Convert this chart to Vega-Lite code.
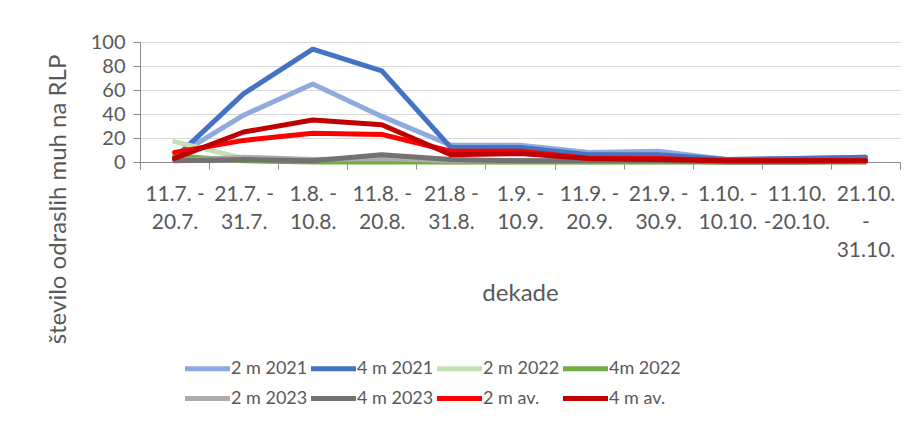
{
  "$schema": "https://vega.github.io/schema/vega-lite/v6.json",
  "width": 760,
  "height": 120,
  "autosize": {"type": "none"},
  "padding": {"left": 140, "top": 42, "right": 15, "bottom": 273},
  "background": "white",
  "config": {"view": {"stroke": null}, "font": "Lato"},
  "data": {"values": [
    {"serija": "2 m 2021", "dekada": "11.7. - 20.7.", "vrednost": 4},
    {"serija": "2 m 2021", "dekada": "21.7. - 31.7.", "vrednost": 39},
    {"serija": "2 m 2021", "dekada": "1.8. - 10.8.", "vrednost": 65},
    {"serija": "2 m 2021", "dekada": "11.8. - 20.8.", "vrednost": 38},
    {"serija": "2 m 2021", "dekada": "21.8 - 31.8.", "vrednost": 14},
    {"serija": "2 m 2021", "dekada": "1.9. - 10.9.", "vrednost": 14},
    {"serija": "2 m 2021", "dekada": "11.9. - 20.9.", "vrednost": 8},
    {"serija": "2 m 2021", "dekada": "21.9. - 30.9.", "vrednost": 9},
    {"serija": "2 m 2021", "dekada": "1.10. - 10.10.", "vrednost": 2},
    {"serija": "2 m 2021", "dekada": "11.10.-20.10.", "vrednost": 3},
    {"serija": "2 m 2021", "dekada": "21.10. - 31.10.", "vrednost": 4},
    {"serija": "4 m 2021", "dekada": "11.7. - 20.7.", "vrednost": 3},
    {"serija": "4 m 2021", "dekada": "21.7. - 31.7.", "vrednost": 57},
    {"serija": "4 m 2021", "dekada": "1.8. - 10.8.", "vrednost": 94},
    {"serija": "4 m 2021", "dekada": "11.8. - 20.8.", "vrednost": 76},
    {"serija": "4 m 2021", "dekada": "21.8 - 31.8.", "vrednost": 12},
    {"serija": "4 m 2021", "dekada": "1.9. - 10.9.", "vrednost": 12},
    {"serija": "4 m 2021", "dekada": "11.9. - 20.9.", "vrednost": 6},
    {"serija": "4 m 2021", "dekada": "21.9. - 30.9.", "vrednost": 6},
    {"serija": "4 m 2021", "dekada": "1.10. - 10.10.", "vrednost": 2},
    {"serija": "4 m 2021", "dekada": "11.10.-20.10.", "vrednost": 3},
    {"serija": "4 m 2021", "dekada": "21.10. - 31.10.", "vrednost": 4},
    {"serija": "2 m 2022", "dekada": "11.7. - 20.7.", "vrednost": 17},
    {"serija": "2 m 2022", "dekada": "21.7. - 31.7.", "vrednost": 3},
    {"serija": "2 m 2022", "dekada": "1.8. - 10.8.", "vrednost": 1},
    {"serija": "2 m 2022", "dekada": "11.8. - 20.8.", "vrednost": 1},
    {"serija": "2 m 2022", "dekada": "21.8 - 31.8.", "vrednost": 0},
    {"serija": "2 m 2022", "dekada": "1.9. - 10.9.", "vrednost": 0},
    {"serija": "2 m 2022", "dekada": "11.9. - 20.9.", "vrednost": 0},
    {"serija": "2 m 2022", "dekada": "21.9. - 30.9.", "vrednost": 0},
    {"serija": "2 m 2022", "dekada": "1.10. - 10.10.", "vrednost": 0},
    {"serija": "2 m 2022", "dekada": "11.10.-20.10.", "vrednost": 0},
    {"serija": "2 m 2022", "dekada": "21.10. - 31.10.", "vrednost": 0},
    {"serija": "4m 2022", "dekada": "11.7. - 20.7.", "vrednost": 5},
    {"serija": "4m 2022", "dekada": "21.7. - 31.7.", "vrednost": 1},
    {"serija": "4m 2022", "dekada": "1.8. - 10.8.", "vrednost": 0},
    {"serija": "4m 2022", "dekada": "11.8. - 20.8.", "vrednost": 0},
    {"serija": "4m 2022", "dekada": "21.8 - 31.8.", "vrednost": 0},
    {"serija": "4m 2022", "dekada": "1.9. - 10.9.", "vrednost": 0},
    {"serija": "4m 2022", "dekada": "11.9. - 20.9.", "vrednost": 0},
    {"serija": "4m 2022", "dekada": "21.9. - 30.9.", "vrednost": 0},
    {"serija": "4m 2022", "dekada": "1.10. - 10.10.", "vrednost": 0},
    {"serija": "4m 2022", "dekada": "11.10.-20.10.", "vrednost": 0},
    {"serija": "4m 2022", "dekada": "21.10. - 31.10.", "vrednost": 0},
    {"serija": "2 m 2023", "dekada": "11.7. - 20.7.", "vrednost": 1},
    {"serija": "2 m 2023", "dekada": "21.7. - 31.7.", "vrednost": 4},
    {"serija": "2 m 2023", "dekada": "1.8. - 10.8.", "vrednost": 2},
    {"serija": "2 m 2023", "dekada": "11.8. - 20.8.", "vrednost": 3},
    {"serija": "2 m 2023", "dekada": "21.8 - 31.8.", "vrednost": 1},
    {"serija": "2 m 2023", "dekada": "1.9. - 10.9.", "vrednost": 1},
    {"serija": "2 m 2023", "dekada": "11.9. - 20.9.", "vrednost": 1},
    {"serija": "2 m 2023", "dekada": "21.9. - 30.9.", "vrednost": 1},
    {"serija": "2 m 2023", "dekada": "1.10. - 10.10.", "vrednost": 0},
    {"serija": "2 m 2023", "dekada": "11.10.-20.10.", "vrednost": 0},
    {"serija": "2 m 2023", "dekada": "21.10. - 31.10.", "vrednost": 0},
    {"serija": "4 m 2023", "dekada": "11.7. - 20.7.", "vrednost": 1},
    {"serija": "4 m 2023", "dekada": "21.7. - 31.7.", "vrednost": 2},
    {"serija": "4 m 2023", "dekada": "1.8. - 10.8.", "vrednost": 1},
    {"serija": "4 m 2023", "dekada": "11.8. - 20.8.", "vrednost": 6},
    {"serija": "4 m 2023", "dekada": "21.8 - 31.8.", "vrednost": 2},
    {"serija": "4 m 2023", "dekada": "1.9. - 10.9.", "vrednost": 1},
    {"serija": "4 m 2023", "dekada": "11.9. - 20.9.", "vrednost": 1},
    {"serija": "4 m 2023", "dekada": "21.9. - 30.9.", "vrednost": 1},
    {"serija": "4 m 2023", "dekada": "1.10. - 10.10.", "vrednost": 0},
    {"serija": "4 m 2023", "dekada": "11.10.-20.10.", "vrednost": 0},
    {"serija": "4 m 2023", "dekada": "21.10. - 31.10.", "vrednost": 1},
    {"serija": "2 m av.", "dekada": "11.7. - 20.7.", "vrednost": 8},
    {"serija": "2 m av.", "dekada": "21.7. - 31.7.", "vrednost": 18},
    {"serija": "2 m av.", "dekada": "1.8. - 10.8.", "vrednost": 24},
    {"serija": "2 m av.", "dekada": "11.8. - 20.8.", "vrednost": 23},
    {"serija": "2 m av.", "dekada": "21.8 - 31.8.", "vrednost": 9},
    {"serija": "2 m av.", "dekada": "1.9. - 10.9.", "vrednost": 9},
    {"serija": "2 m av.", "dekada": "11.9. - 20.9.", "vrednost": 3},
    {"serija": "2 m av.", "dekada": "21.9. - 30.9.", "vrednost": 3},
    {"serija": "2 m av.", "dekada": "1.10. - 10.10.", "vrednost": 1},
    {"serija": "2 m av.", "dekada": "11.10.-20.10.", "vrednost": 1},
    {"serija": "2 m av.", "dekada": "21.10. - 31.10.", "vrednost": 1},
    {"serija": "4 m av.", "dekada": "11.7. - 20.7.", "vrednost": 3},
    {"serija": "4 m av.", "dekada": "21.7. - 31.7.", "vrednost": 25},
    {"serija": "4 m av.", "dekada": "1.8. - 10.8.", "vrednost": 35},
    {"serija": "4 m av.", "dekada": "11.8. - 20.8.", "vrednost": 31},
    {"serija": "4 m av.", "dekada": "21.8 - 31.8.", "vrednost": 6},
    {"serija": "4 m av.", "dekada": "1.9. - 10.9.", "vrednost": 7},
    {"serija": "4 m av.", "dekada": "11.9. - 20.9.", "vrednost": 3},
    {"serija": "4 m av.", "dekada": "21.9. - 30.9.", "vrednost": 2},
    {"serija": "4 m av.", "dekada": "1.10. - 10.10.", "vrednost": 1},
    {"serija": "4 m av.", "dekada": "11.10.-20.10.", "vrednost": 1},
    {"serija": "4 m av.", "dekada": "21.10. - 31.10.", "vrednost": 1}
  ]},
  "mark": {"type": "line", "strokeWidth": 5, "strokeJoin": "round", "strokeCap": "round"},
  "encoding": {
    "x": {
      "field": "dekada",
      "type": "nominal",
      "bandPosition": 0.5,
      "sort": ["11.7. - 20.7.", "21.7. - 31.7.", "1.8. - 10.8.", "11.8. - 20.8.", "21.8 - 31.8.", "1.9. - 10.9.", "11.9. - 20.9.", "21.9. - 30.9.", "1.10. - 10.10.", "11.10.-20.10.", "21.10. - 31.10."],
      "scale": {"type": "band", "paddingInner": 0, "paddingOuter": 0},
      "axis": {
        "title": "dekade",
        "labelAngle": 0,
        "tickBand": "extent",
        "tickSize": 7,
        "tickColor": "#8c8c8c",
        "domainColor": "#8c8c8c",
        "labelFont": "Lato",
        "labelFontSize": 21,
        "labelColor": "#595959",
        "labelPadding": 14,
        "labelBaseline": "top",
        "labelLineHeight": 28,
        "labelLimit": 0,
        "labelOverlap": false,
        "labelExpr": "!isString(datum.value) ? '' : datum.value == '21.10. - 31.10.' ? ['21.10.', '-', '31.10.'] : datum.value == '11.10.-20.10.' ? ['11.10.', '-20.10.'] : indexof(datum.value, ' - ') > 0 ? [split(datum.value, ' - ')[0] + ' -', split(datum.value, ' - ')[1]] : datum.value",
        "titleFontSize": 24,
        "titleFontWeight": "normal",
        "titleColor": "#595959",
        "titleY": 138,
        "titleBaseline": "alphabetic",
        "grid": false
      }
    },
    "y": {
      "field": "vrednost",
      "type": "quantitative",
      "scale": {"domain": [0, 100]},
      "axis": {
        "title": "število odraslih muh na RLP",
        "values": [0, 20, 40, 60, 80, 100],
        "tickSize": 7,
        "tickColor": "#8c8c8c",
        "domainColor": "#8c8c8c",
        "gridColor": "#D9D9D9",
        "labelFontSize": 20,
        "labelColor": "#595959",
        "labelPadding": 8,
        "titleFontSize": 24,
        "titleFontWeight": "normal",
        "titleColor": "#595959",
        "titleAngle": -90,
        "titleX": -82,
        "titleY": 157,
        "titleAlign": "center",
        "titleBaseline": "middle"
      }
    },
    "color": {
      "field": "serija",
      "type": "nominal",
      "sort": ["2 m 2021", "4 m 2021", "2 m 2022", "4m 2022", "2 m 2023", "4 m 2023", "2 m av.", "4 m av."],
      "scale": {
        "domain": ["2 m 2021", "4 m 2021", "2 m 2022", "4m 2022", "2 m 2023", "4 m 2023", "2 m av.", "4 m av."],
        "range": ["#8FAADC", "#4472C4", "#C5E0B4", "#70AD47", "#AFABAB", "#767171", "#FF0000", "#C00000"]
      },
      "legend": {
        "orient": "none",
        "legendX": 56,
        "legendY": 315,
        "direction": "horizontal",
        "columns": 4,
        "gridAlign": "all",
        "title": null,
        "padding": 0,
        "symbolType": "M-2.5,0H2.5",
        "symbolSize": 324,
        "symbolStrokeWidth": 5,
        "symbolFillColor": "transparent",
        "labelFontSize": 18,
        "labelColor": "#595959",
        "labelOffset": 12,
        "labelLimit": 200,
        "columnPadding": -7,
        "rowPadding": 8
      }
    }
  }
}
